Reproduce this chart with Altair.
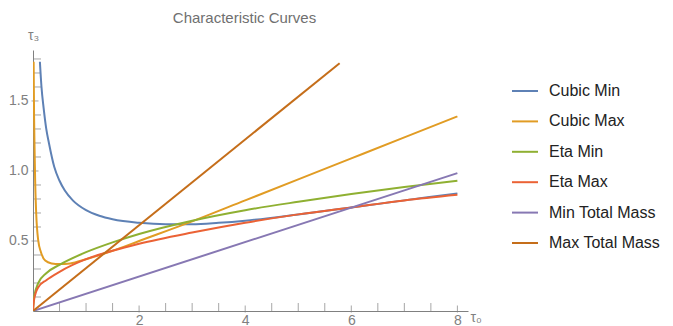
import altair as alt
import pandas as pd

series_names = ["Cubic Min", "Cubic Max", "Eta Min", "Eta Max", "Min Total Mass", "Max Total Mass"]
series_colors = ["#5E81B5", "#E19C24", "#8FB032", "#EB6235", "#8778B3", "#C56E1A"]

cubic_min_x = [0.13, 0.16, 0.2, 0.25, 0.3, 0.4, 0.5, 0.6, 0.75, 1.0, 1.25, 1.5, 2.0, 2.5, 3.0, 3.5, 4.0, 5.0, 6.0, 7.0, 8.0]
cubic_min_y = [1.78, 1.6, 1.45, 1.3, 1.2, 1.03, 0.93, 0.86, 0.79, 0.72, 0.68, 0.655, 0.63, 0.62, 0.62, 0.63, 0.645, 0.69, 0.74, 0.79, 0.84]

cubic_max_x = [0.012, 0.02, 0.03, 0.04, 0.06, 0.1, 0.15, 0.23, 0.35, 0.5, 0.7, 1.0, 1.5, 2.0, 3.0, 4.0, 5.0, 6.0, 7.0, 8.0]
cubic_max_y = [1.78, 1.4, 1.15, 0.94, 0.7, 0.5, 0.42, 0.36, 0.34, 0.335, 0.34, 0.37, 0.43, 0.5, 0.64, 0.79, 0.94, 1.09, 1.24, 1.39]

eta_min_x = [0.0, 0.02, 0.1, 0.25, 0.5, 1.0, 1.5, 2.0, 3.0, 4.0, 5.0, 6.0, 7.0, 8.0]
eta_min_y = [0.0, 0.1, 0.2, 0.27, 0.33, 0.42, 0.49, 0.55, 0.645, 0.72, 0.78, 0.835, 0.885, 0.93]

eta_max_x = [0.0, 0.02, 0.1, 0.25, 0.5, 1.0, 1.5, 2.0, 3.0, 4.0, 5.0, 6.0, 7.0, 8.0]
eta_max_y = [0.0, 0.08, 0.17, 0.22, 0.28, 0.37, 0.43, 0.48, 0.56, 0.63, 0.69, 0.74, 0.79, 0.83]

min_mass_x = [0.0, 8.0]
min_mass_y = [0.0, 0.985]

max_mass_x = [0.0, 5.78]
max_mass_y = [0.0, 1.77]

x_major_ticks = [2, 4, 6, 8]
x_minor_ticks = [0.5, 1, 1.5, 2.5, 3, 3.5, 4.5, 5, 5.5, 6.5, 7, 7.5]
y_major_ticks = [0.5, 1.0, 1.5]
y_minor_ticks = [0.1, 0.2, 0.3, 0.4, 0.6, 0.7, 0.8, 0.9, 1.1, 1.2, 1.3, 1.4, 1.6, 1.7, 1.8]

all_x = [cubic_min_x, cubic_max_x, eta_min_x, eta_max_x, min_mass_x, max_mass_x]
all_y = [cubic_min_y, cubic_max_y, eta_min_y, eta_max_y, min_mass_y, max_mass_y]

rows = []
for name, xs, ys in zip(series_names, all_x, all_y):
    for i, (xv, yv) in enumerate(zip(xs, ys)):
        rows.append({"series": name, "x": xv, "y": yv, "order": i})
df = pd.DataFrame(rows)

W, H = 435, 261
font = "Liberation Sans"
gray = "#808080"

xscale = alt.Scale(domain=[0, 8.2], nice=False, zero=False)
yscale = alt.Scale(domain=[0, 1.864], nice=False, zero=False)

lines = alt.Chart(df).mark_line(strokeWidth=2, interpolate="monotone", clip=True).encode(
    x=alt.X("x:Q", scale=xscale, axis=alt.Axis(
        values=x_major_ticks, ticks=False, grid=False, domainColor=gray,
        labelColor=gray, labelFontSize=14, labelFont=font, labelPadding=2,
        title="τ₀", titleX=437, titleY=6, titleAlign="left", titleBaseline="middle",
        titleFontWeight="normal", titleFontSize=14, titleColor=gray, titleFont=font)),
    y=alt.Y("y:Q", scale=yscale, axis=alt.Axis(
        values=y_major_ticks, format=".1f", ticks=False, grid=False, domainColor=gray,
        labelColor=gray, labelFontSize=14, labelFont=font, labelPadding=5,
        title="τ₃", titleAngle=0, titleX=0, titleY=-15, titleAlign="center", titleBaseline="middle",
        titleFontWeight="normal", titleFontSize=14, titleColor=gray, titleFont=font)),
    color=alt.Color("series:N", sort=series_names,
                    scale=alt.Scale(domain=series_names, range=series_colors),
                    legend=alt.Legend(title=None, orient="none", legendX=478, legendY=27,
                                      symbolType="stroke", symbolSize=676, symbolStrokeWidth=2,
                                      labelFontSize=16, labelFont=font, labelColor="#222222",
                                      labelOffset=10, rowPadding=8.4, padding=0)),
    order="order:Q",
    detail="series:N",
)

xt_major = alt.Chart(pd.DataFrame({"t": x_major_ticks})).mark_tick(
    orient="vertical", size=7, thickness=1, color=gray, yOffset=-2).encode(
    x=alt.X("t:Q", scale=xscale), y=alt.datum(0, scale=yscale))
xt_minor = alt.Chart(pd.DataFrame({"t": x_minor_ticks})).mark_tick(
    orient="vertical", size=8, thickness=1, color=gray, yOffset=-4).encode(
    x=alt.X("t:Q", scale=xscale), y=alt.datum(0, scale=yscale))
yt_major = alt.Chart(pd.DataFrame({"t": y_major_ticks})).mark_tick(
    orient="horizontal", size=7, thickness=1, color=gray, xOffset=2).encode(
    y=alt.Y("t:Q", scale=yscale), x=alt.datum(0, scale=xscale))
yt_minor = alt.Chart(pd.DataFrame({"t": y_minor_ticks})).mark_tick(
    orient="horizontal", size=8, thickness=1, color=gray, xOffset=4).encode(
    y=alt.Y("t:Q", scale=yscale), x=alt.datum(0, scale=xscale))

chart = alt.layer(xt_major, xt_minor, yt_major, yt_minor, lines).properties(
    width=W, height=H,
    title=alt.TitleParams("Characteristic Curves", fontSize=15, font=font, color="#707070",
                          fontWeight="normal", anchor="middle", offset=2, dx=-6),
    autosize=alt.AutoSizeParams(type="none"),
    padding={"left": 25, "top": 42, "right": 197, "bottom": 15},
).configure_view(stroke=None).configure_axis(domainWidth=1)

chart.save("out.html", embed_options={"renderer": "svg", "actions": False})
